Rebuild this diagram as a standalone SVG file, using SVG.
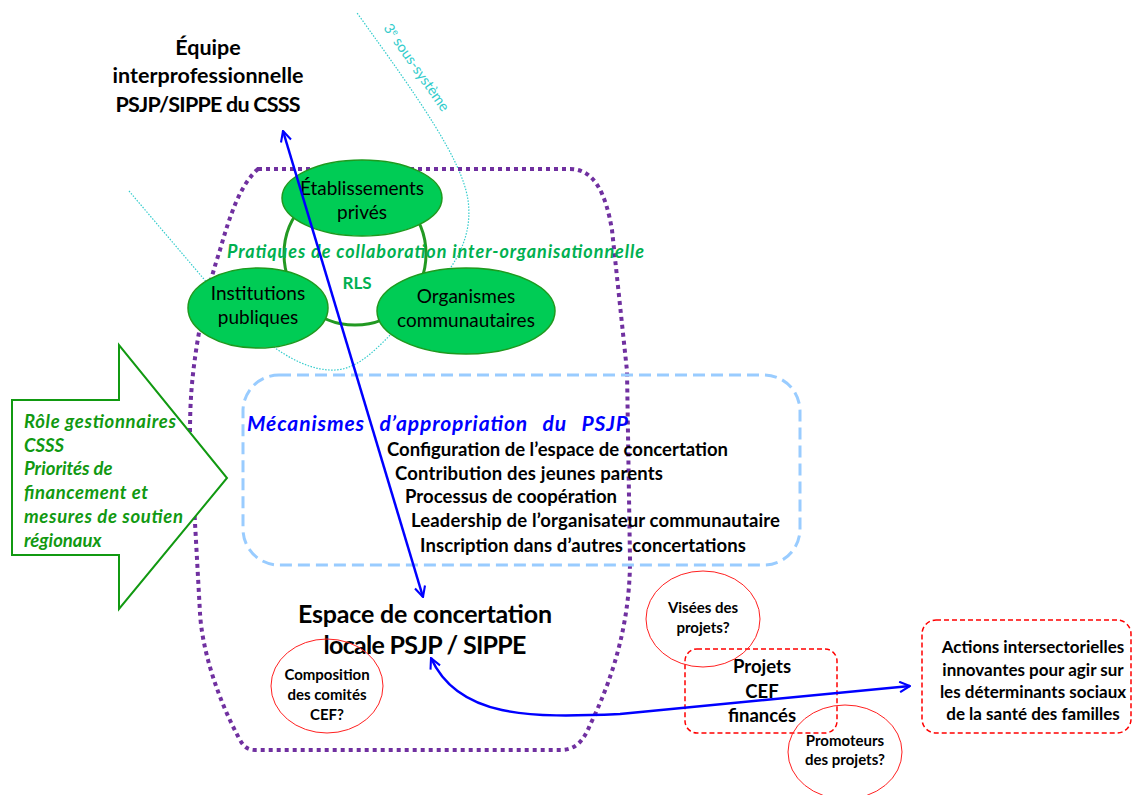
<svg xmlns="http://www.w3.org/2000/svg" width="1132" height="795" viewBox="0 0 1132 795">
  <style>
    text { font-family: Lato, "Open Sans", "Liberation Sans", sans-serif; white-space: pre; }
    .b { font-weight: bold; }
    .bi { font-weight: bold; font-style: italic; }
    .mid { text-anchor: middle; }
    .node { fill: #00CC55; stroke: #1E9A1E; stroke-width: 1.5; }
    .ntext { font-size: 19px; fill: #000; text-anchor: middle; }
    .q { fill: none; stroke: #FF2020; stroke-width: 1; }
    .qtext { font-size: 15px; font-weight: bold; text-anchor: middle; fill: #000; }
    .rbox { fill: none; stroke: #FF0000; stroke-width: 1.5; stroke-dasharray: 5 3; }
    .cyan { fill: none; stroke: #33CCCC; stroke-width: 1.2; stroke-dasharray: 1.5 1.5; }
    .link { fill: none; stroke: #0000FF; stroke-width: 2.5; marker-start: url(#head); marker-end: url(#head); }
  </style>
  <defs>
    <marker id="head" viewBox="0 0 12 12" refX="11" refY="6" markerWidth="5" markerHeight="5" markerUnits="strokeWidth" orient="auto-start-reverse">
      <path d="M1,1 L11,6 L1,11" fill="none" stroke="#0000FF" stroke-width="2"/>
    </marker>
  </defs>
  <rect width="1132" height="795" fill="#fff"/>

  <!-- third sub-system boundary -->
  <g id="sous-systeme">
    <path class="cyan" d="M129,191 L203,278 C240,322 290,372 335,370 C360,369 380,345 400,325 C440,285 475,250 468,200 C462,160 420,100 357,13"/>
    <text x="0" y="0" transform="translate(383,28) rotate(55)" font-size="14.5" fill="#33CCCC">3<tspan font-size="9" dy="-5">e</tspan><tspan dy="5"> sous-système</tspan></text>
  </g>

  <!-- local concertation space boundary -->
  <path id="espace-limite" d="M258,169 L570,169 C595,169 606,195 612,230 L627,371 L630,560 C630,640 602,700 590,725 C583,742 575,750 560,750 L255,750 C248,750 244,747 240,740 C218,700 202,650 200,613 L190,433 C190,400 192,380 195,358 C200,320 210,280 220,250 C230,215 240,185 258,169 Z" fill="none" stroke="#7030A0" stroke-width="4" stroke-dasharray="4 4"/>

  <!-- RLS: inter-organisational network -->
  <g id="rls">
    <circle cx="355" cy="254" r="71" fill="none" stroke="#229922" stroke-width="3"/>
    <g id="etablissements">
      <ellipse class="node" cx="362" cy="198" rx="80" ry="38"/>
      <text class="ntext" x="362" y="195">Établissements</text>
      <text class="ntext" x="362" y="219">privés</text>
    </g>
    <g id="institutions">
      <ellipse class="node" cx="258" cy="308" rx="70" ry="40"/>
      <text class="ntext" x="258" y="300">Institutions</text>
      <text class="ntext" x="258" y="324">publiques</text>
    </g>
    <g id="organismes">
      <ellipse class="node" cx="466" cy="311" rx="89" ry="43"/>
      <text class="ntext" x="466" y="303">Organismes</text>
      <text class="ntext" x="466" y="327">communautaires</text>
    </g>
    <text class="bi" x="227" y="258" font-size="18" fill="#00B050" textLength="417">Pratiques de collaboration inter-organisationnelle</text>
    <text class="b mid" x="357" y="289" font-size="17" fill="#00B050">RLS</text>
  </g>

  <!-- CSSS team -->
  <g id="equipe" class="b mid" font-size="21.5">
    <text x="208" y="55">Équipe</text>
    <text x="208" y="83" textLength="191">interprofessionnelle</text>
    <text x="208" y="112" textLength="185">PSJP/SIPPE du CSSS</text>
  </g>

  <!-- regional influences -->
  <g id="regional">
    <path d="M12,400 L119,400 L119,345 L227,478 L119,609 L119,555 L12,555 Z" fill="#fff" stroke="#119911" stroke-width="2"/>
    <g class="bi" font-size="18.5" fill="#119911">
      <text x="24" y="428" textLength="152">Rôle gestionnaires</text>
      <text x="24" y="452">CSSS</text>
      <text x="24" y="475">Priorités de</text>
      <text x="24" y="499" textLength="124">financement et</text>
      <text x="24" y="523" textLength="159">mesures de soutien</text>
      <text x="24" y="547">régionaux</text>
    </g>
  </g>

  <!-- appropriation mechanisms -->
  <g id="mecanismes">
    <rect x="243" y="375" width="557" height="190" rx="36" fill="none" stroke="#99CCFF" stroke-width="3" stroke-dasharray="12 6"/>
    <text class="bi" x="247" y="431" font-size="21" fill="#0000FF" word-spacing="9" textLength="381">Mécanismes d’appropriation du PSJP</text>
    <g class="b" font-size="18.5" fill="#000">
      <text x="387" y="456" textLength="341">Configuration de l’espace de concertation</text>
      <text x="395" y="480" textLength="268">Contribution des jeunes parents</text>
      <text x="405" y="503" textLength="212">Processus de coopération</text>
      <text x="411" y="527" textLength="369">Leadership de l’organisateur communautaire</text>
      <text x="420" y="552" textLength="326">Inscription dans d’autres  concertations</text>
    </g>
  </g>

  <!-- local concertation space -->
  <g id="espace" class="b mid" font-size="25">
    <text x="425" y="623" textLength="254">Espace de concertation</text>
    <text x="425" y="654" textLength="203">locale PSJP / SIPPE</text>
  </g>

  <g id="composition">
    <ellipse class="q" cx="327" cy="686" rx="56" ry="47"/>
    <text class="qtext" x="327" y="680">Composition</text>
    <text class="qtext" x="327" y="700">des comités</text>
    <text class="qtext" x="327" y="720">CEF?</text>
  </g>

  <g id="projets">
    <rect class="rbox" x="685" y="649" width="152" height="84" rx="12"/>
    <text class="b mid" x="762" y="673" font-size="18.5">Projets</text>
    <text class="b mid" x="762" y="698" font-size="18.5">CEF</text>
    <text class="b mid" x="762" y="722" font-size="18.5">financés</text>
  </g>

  <g id="visees">
    <ellipse class="q" cx="703" cy="619" rx="57" ry="48"/>
    <text class="qtext" x="703" y="613">Visées des</text>
    <text class="qtext" x="703" y="633">projets?</text>
  </g>

  <g id="promoteurs">
    <ellipse class="q" cx="845" cy="752" rx="57" ry="47"/>
    <text class="qtext" x="845" y="746">Promoteurs</text>
    <text class="qtext" x="845" y="765">des projets?</text>
  </g>

  <g id="actions">
    <rect class="rbox" x="922" y="620" width="209" height="113" rx="14"/>
    <g class="b mid" font-size="17" fill="#000">
      <text x="1033" y="653">Actions intersectorielles</text>
      <text x="1033" y="676">innovantes pour agir sur</text>
      <text x="1033" y="698">les déterminants sociaux</text>
      <text x="1033" y="720">de la santé des familles</text>
    </g>
  </g>

  <!-- connectors -->
  <g id="connecteurs">
    <path class="link" d="M283,131 L423,597"/>
    <path class="link" d="M431,658 C458,718 530,718 620,714 L910,686"/>
  </g>
</svg>
